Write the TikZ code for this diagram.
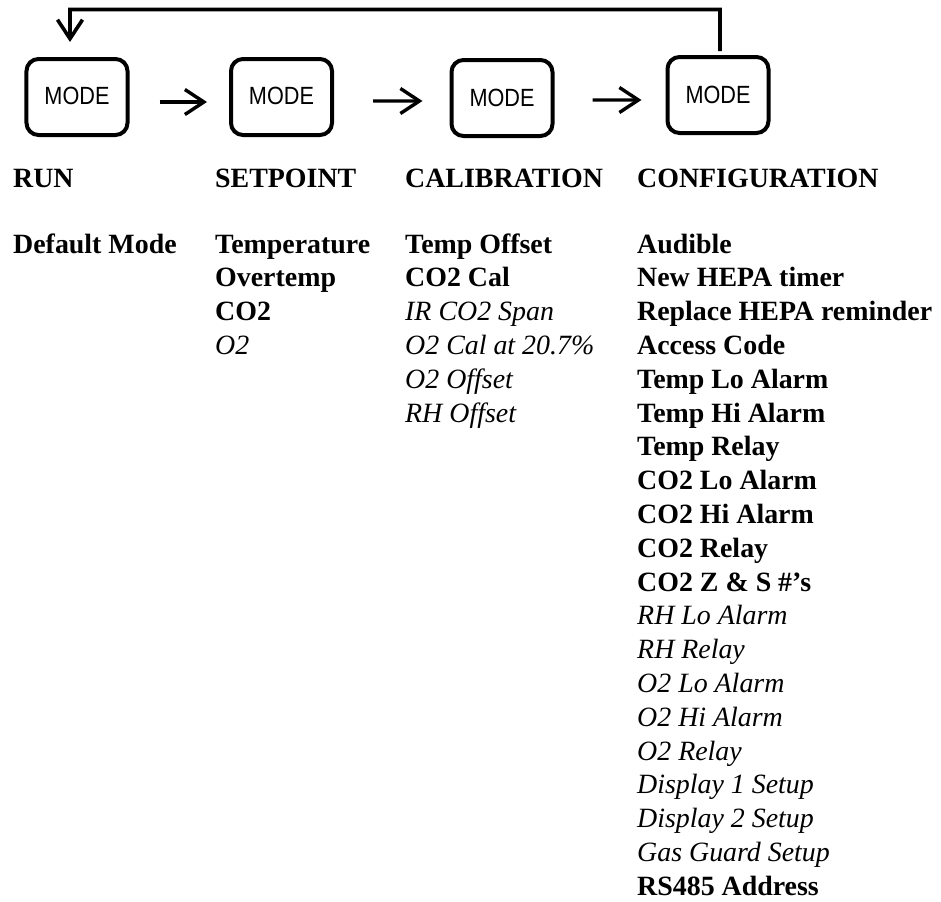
\documentclass[tikz,border=0pt]{standalone}
\usepackage{fontspec}
\setmainfont{Liberation Serif}
\newfontfamily\arialfont{Liberation Sans}
\usetikzlibrary{arrows.meta}
\begin{document}
\begin{tikzpicture}[x=1bp,y=-1bp,
  modebox/.style={draw, line width=4bp, rounded corners=12bp, minimum width=101bp, minimum height=76bp, inner sep=0pt,
    font=\arialfont\fontsize{25}{25}\selectfont},
  flow/.style={line width=3.4bp, -{Straight Barb[length=19bp,width=25bp]}},
  head/.style={anchor=base west, inner sep=0pt, font=\bfseries\fontsize{28}{28}\selectfont},
  bitem/.style={anchor=base west, inner sep=0pt, font=\bfseries\fontsize{28}{28}\selectfont},
  iitem/.style={anchor=base west, inner sep=0pt, font=\itshape\fontsize{28}{28}\selectfont}]
\useasboundingbox (0,0) rectangle (941,902);

% mode buttons
\node[modebox] (b1) at (77,97) {\raisebox{2bp}{\scalebox{0.87}[1]{MODE}}};
\node[modebox] (b2) at (281.5,97) {\raisebox{2bp}{\scalebox{0.87}[1]{MODE}}};
\node[modebox] (b3) at (502,98) {\scalebox{0.87}[1]{MODE}};
\node[modebox] (b4) at (718,95) {\scalebox{0.87}[1]{MODE}};

% forward arrows
\draw[flow, shorten >=22bp, shorten <=30bp] ([yshift=-5bp]b1.east) -- ([yshift=-5bp]b2.west);
\draw[flow, shorten >=27bp, shorten <=39bp] ([yshift=-4bp]b2.east) -- ([yshift=-3bp]b3.west);
\draw[flow, shorten >=24bp, shorten <=38bp] ([yshift=-2bp]b3.east) -- ([yshift=-5bp]b4.west);

% feedback loop
\coordinate (top) at (70,9.5);
\draw[flow, line width=3.6bp, shorten >=15bp, line join=miter] ([xshift=2bp,yshift=4bp]b4.north) |- (top) -- ([xshift=-7bp]b1.north);

% headings
\node[head] (h1) at (13,187) {RUN};
\node[head] (h2) at (215,187) {SETPOINT};
\node[head] (h3) at (405,187) {CALIBRATION};
\node[head] (h4) at (637,187) {CONFIGURATION};

% lists
\node[bitem] (run0) at (13,253) {Default Mode};

\foreach [count=\i from 0] \s/\t in {bitem/Temperature, bitem/Overtemp, bitem/CO2, iitem/O2}
  \node[\s] (sp\i) at (215,253+\i*33.8) {\t};

\foreach [count=\i from 0] \s/\t in {bitem/Temp Offset, bitem/CO2 Cal, iitem/IR CO2 Span, iitem/O2 Cal at 20.7\%, iitem/O2 Offset, iitem/RH Offset}
  \node[\s] (cal\i) at (405,253+\i*33.8) {\t};

\foreach [count=\i from 0] \s/\t in {bitem/Audible, bitem/New HEPA timer, bitem/Replace HEPA reminder, bitem/Access Code,
  bitem/Temp Lo Alarm, bitem/Temp Hi Alarm, bitem/Temp Relay, bitem/CO2 Lo Alarm, bitem/CO2 Hi Alarm, bitem/CO2 Relay,
  bitem/CO2 Z \& S \#’s, iitem/RH Lo Alarm, iitem/RH Relay, iitem/O2 Lo Alarm, iitem/O2 Hi Alarm, iitem/O2 Relay,
  iitem/Display 1 Setup, iitem/Display 2 Setup, iitem/Gas Guard Setup, bitem/RS485 Address}
  \node[\s] (cfg\i) at (637,253+\i*33.8) {\t};
\end{tikzpicture}
\end{document}
